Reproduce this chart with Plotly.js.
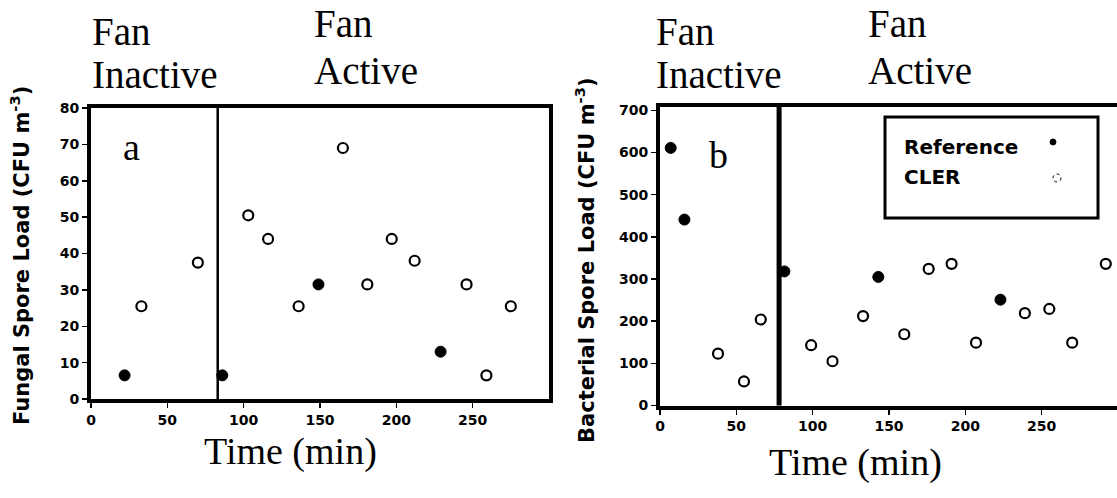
<!DOCTYPE html>
<html>
<head>
<meta charset="utf-8">
<script src="https://cdn.plot.ly/plotly-3.0.1.min.js"></script>
<style>
  html, body { margin: 0; padding: 0; background: #fff; overflow: hidden; }
  #chart { width: 1122px; height: 498px; }
</style>
</head>
<body>
<div id="chart"></div>
<script>
// ---- Data ----
const seriesNames = ['Reference', 'CLER'];

// Panel a: fungal spore load
const fungalTimeRef = [22, 86, 149, 229];
const fungalRef = [6.5, 6.5, 31.5, 13];
const fungalTimeCler = [33, 70, 103, 116, 136, 165, 181, 197, 212, 246, 259, 275];
const fungalCler = [25.5, 37.5, 50.5, 44, 25.5, 69, 31.5, 44, 38, 31.5, 6.5, 25.5];

// Panel b: bacterial spore load
const bactTimeRef = [7, 16, 81.5, 143, 223];
const bactRef = [611, 441, 318, 305, 251];
const bactTimeCler = [38, 55, 66, 99, 113, 133, 160, 176, 191, 207, 239, 255, 270, 292];
const bactCler = [123, 57, 204, 143, 105, 212, 169, 324, 336, 149, 219, 229, 149, 336];

// Fan switched on (min)
const fanOnFungal = 83;
const fanOnBact = 78;

const xTicks = [0, 50, 100, 150, 200, 250];
const yTicksFungal = [0, 10, 20, 30, 40, 50, 60, 70, 80];
const yTicksBact = [0, 100, 200, 300, 400, 500, 600, 700];

// ---- Layout helpers (pixel -> paper) ----
const W = 1122, H = 498;
const px = v => v / W;
const py = v => 1 - v / H;

const SERIF = 'Liberation Serif, Times New Roman, serif';
const tickFont = {family: 'DejaVu Sans', size: 14, weight: 'bold', color: '#000'};
const serif = size => ({family: SERIF, size: size, color: '#000'});
const boldSans = size => ({family: 'DejaVu Sans', size: size, weight: 'bold', color: '#000'});

const refMarker = {color: '#000', size: 11, line: {color: '#000', width: 1}};
const clerMarker = {color: '#fff', size: 10, line: {color: '#000', width: 2.2}};

const traces = [
  {x: fungalTimeRef, y: fungalRef, xaxis: 'x', yaxis: 'y', mode: 'markers', name: seriesNames[0], marker: refMarker},
  {x: fungalTimeCler, y: fungalCler, xaxis: 'x', yaxis: 'y', mode: 'markers', name: seriesNames[1], marker: clerMarker},
  {x: bactTimeRef, y: bactRef, xaxis: 'x2', yaxis: 'y2', mode: 'markers', name: seriesNames[0], marker: refMarker},
  {x: bactTimeCler, y: bactCler, xaxis: 'x2', yaxis: 'y2', mode: 'markers', name: seriesNames[1], marker: clerMarker}
];

const axisCommon = {
  showline: true, mirror: true, linewidth: 4, linecolor: '#000',
  ticks: 'outside', ticklen: 5, tickwidth: 1.5, tickcolor: '#000',
  showgrid: false, zeroline: false, tickfont: tickFont, fixedrange: true
};

function ann(text, x, y, font, extra) {
  return Object.assign({text: text, x: x, y: y, xref: 'paper', yref: 'paper', showarrow: false,
    xanchor: 'center', yanchor: 'middle', font: font}, extra || {});
}

const layout = {
  width: W, height: H,
  margin: {l: 0, r: 0, t: 0, b: 0},
  paper_bgcolor: '#fff', plot_bgcolor: '#fff',
  showlegend: false,
  xaxis: Object.assign({}, axisCommon, {domain: [px(91), px(549)], range: [0, 300], tickvals: xTicks, anchor: 'y'}),
  yaxis: Object.assign({}, axisCommon, {domain: [py(399), py(108)], range: [0, 80], tickvals: yTicksFungal, anchor: 'x'}),
  xaxis2: Object.assign({}, axisCommon, {domain: [px(660), px(1118)], range: [0, 300], tickvals: xTicks, anchor: 'y2'}),
  yaxis2: Object.assign({}, axisCommon, {domain: [py(405.5), py(107)], range: [0, 708], tickvals: yTicksBact, anchor: 'x2'}),
  shapes: [
    {type: 'line', xref: 'x', yref: 'y domain', x0: fanOnFungal, x1: fanOnFungal, y0: 0, y1: 1, line: {color: '#000', width: 2.5}, layer: 'below'},
    {type: 'line', xref: 'x2', yref: 'y2 domain', x0: fanOnBact, x1: fanOnBact, y0: 0, y1: 1, line: {color: '#000', width: 5}, layer: 'below'},
    // legend box
    {type: 'rect', xref: 'paper', yref: 'paper', x0: px(885), x1: px(1098), y0: py(218), y1: py(117), line: {color: '#000', width: 3}, fillcolor: '#fff', layer: 'below'},
    // legend symbols
    {type: 'circle', xref: 'paper', yref: 'paper', x0: px(1050), x1: px(1056), y0: py(145), y1: py(139), line: {color: '#000', width: 1}, fillcolor: '#000'},
    {type: 'circle', xref: 'paper', yref: 'paper', x0: px(1053), x1: px(1061), y0: py(182), y1: py(174), line: {color: '#000', width: 1, dash: 'dot'}, fillcolor: '#fff'}
  ],
  annotations: [
    // Fan state labels, panel a
    ann('Fan', px(90), py(8), serif(39), {xanchor: 'left', yanchor: 'top'}),
    ann('Inactive', px(90), py(51), serif(39), {xanchor: 'left', yanchor: 'top'}),
    ann('Fan', px(312), py(0), serif(39), {xanchor: 'left', yanchor: 'top'}),
    ann('Active', px(312), py(47), serif(39), {xanchor: 'left', yanchor: 'top'}),
    // Fan state labels, panel b
    ann('Fan', px(654), py(8), serif(39), {xanchor: 'left', yanchor: 'top'}),
    ann('Inactive', px(654), py(51), serif(39), {xanchor: 'left', yanchor: 'top'}),
    ann('Fan', px(866), py(0), serif(39), {xanchor: 'left', yanchor: 'top'}),
    ann('Active', px(866), py(47), serif(39), {xanchor: 'left', yanchor: 'top'}),
    // panel letters
    ann('a', px(131), py(147), serif(38)),
    ann('b', px(718), py(155), serif(38)),
    // axis titles
    ann('Time (min)', px(290), py(451), serif(38)),
    ann('Time (min)', px(855), py(462), serif(38)),
    ann('Fungal Spore Load (CFU m<sup>-3</sup>)', px(20), py(256), boldSans(21), {textangle: -90}),
    ann('Bacterial Spore Load (CFU m<sup>-3</sup>)', px(585), py(260), boldSans(21), {textangle: -90}),
    // legend text
    ann(seriesNames[0], px(902), py(147), boldSans(20), {xanchor: 'left'}),
    ann(seriesNames[1], px(902), py(177), boldSans(20), {xanchor: 'left'})
  ]
};

Plotly.newPlot('chart', traces, layout, {displayModeBar: false, staticPlot: true});
</script>
</body>
</html>
